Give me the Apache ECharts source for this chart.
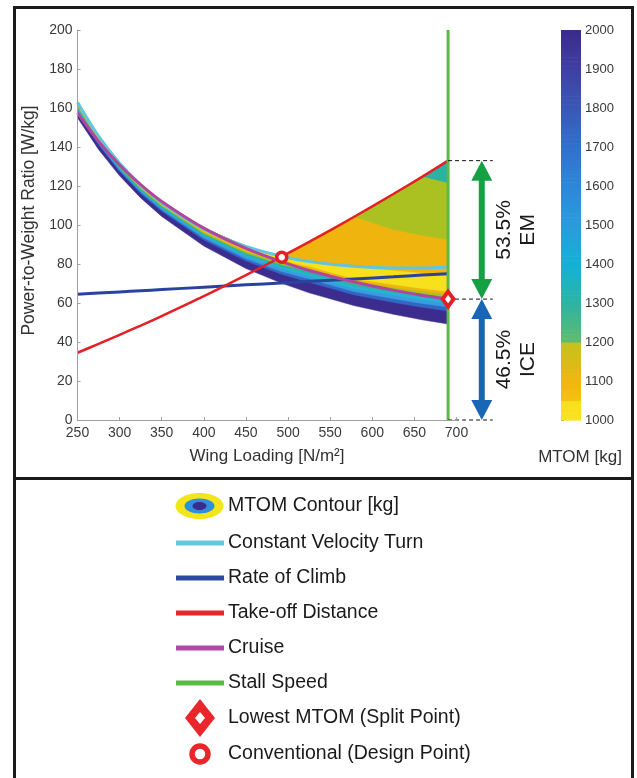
<!DOCTYPE html>
<html>
<head>
<meta charset="utf-8">
<script src="https://cdn.jsdelivr.net/npm/echarts@6/dist/echarts.min.js"></script>
<style>
html,body{margin:0;padding:0;background:#fff;}
#chart{width:637px;height:778px;}
</style>
</head>
<body>
<div id="chart"></div>
<script>
// wing loading samples [N/m2]
var wingLoading = [250, 275, 300, 325, 350, 400, 450, 492, 525, 578, 625, 659, 690];
// constraint curves, power-to-weight [W/kg]
var cvtTurn  = [163.0, 145.6, 131.7, 120.5, 111.4, 97.9, 89.0, 84.0, 81.3, 78.8, 78.0, 78.0, 78.5];
var climb    = [64.5, 65.1, 65.7, 66.3, 66.9, 68.1, 69.3, 70.3, 71.1, 72.3, 73.4, 74.3, 75.0];
var takeOff  = [34.5, 39.0, 43.7, 48.4, 53.3, 63.5, 74.3, 83.7, 91.3, 104.1, 115.9, 124.7, 133.0];
var cruise   = [157.5, 142.9, 130.8, 120.7, 112.1, 98.4, 88.0, 81.2, 76.7, 70.8, 66.6, 64.0, 62.0];
var stallLoading = 690;

// MTOM contour boundaries (lower side of the valley, and upper side in the wedge)
var fillTop   = [163.0, 145.6, 131.7, 120.7, 112.1, 98.4, 89.0, 83.8, 91.3, 104.1, 115.9, 124.7, 133.0];
var mtom2000  = [155.0, 138.7, 125.2, 113.9, 104.4, 89.2, 77.7, 70.2, 65.2, 58.7, 54.2, 51.4, 49.2];
var mtom1800  = [157.7, 141.1, 127.4, 116.2, 107.0, 92.3, 81.5, 74.8, 70.6, 64.2, 60.3, 57.8, 55.9];
var mtom1600  = [158.5, 141.8, 128.1, 116.9, 107.8, 93.3, 82.7, 76.2, 72.3, 65.9, 62.2, 59.8, 57.9];
var mtom1400  = [159.4, 142.5, 128.7, 117.6, 108.6, 94.2, 83.8, 77.6, 73.9, 67.5, 64.0, 61.7, 60.0];
var mtom1300  = [160.0, 143.0, 129.2, 118.1, 109.1, 94.9, 84.7, 78.7, 75.1, 68.8, 65.4, 63.2, 61.5];
var mtom1200  = [160.6, 143.5, 129.7, 118.7, 109.7, 95.6, 85.6, 79.7, 76.4, 70.0, 66.8, 64.6, 63.0];
var mtom1100  = [161.2, 144.1, 130.2, 119.2, 110.3, 96.3, 86.4, 80.8, 77.6, 71.3, 68.1, 66.1, 64.5];
var mtom1050  = [161.8, 144.6, 130.7, 119.7, 110.9, 97.0, 87.3, 81.8, 78.8, 72.5, 69.5, 67.5, 66.0];
var upper1050 = [163.0, 145.6, 131.7, 120.7, 112.1, 98.4, 89.0, 83.8, 81.5, 78.5, 76.5, 75.3, 74.5];
var upper1200 = [163.0, 145.6, 131.7, 120.7, 112.1, 98.4, 89.0, 83.8, 91.3, 104.1, 97.5, 94.5, 92.3];
var upper1300 = [163.0, 145.6, 131.7, 120.7, 112.1, 98.4, 89.0, 83.8, 91.3, 104.1, 115.9, 124.7, 121.4];

// points
var splitPoint  = [690, 62];
var designPoint = [492.5, 83.5];

// hybrid split annotation
var splitLevels = [133, 62, 0];
var dashEnd     = 743;
var arrowSpans  = [[730, 133, 62], [730, 62, 0]];
var shareValue  = ['53.5%', '46.5%'];
var shareName   = ['EM', 'ICE'];

// colorbar
var cbMin = 1000, cbMax = 2000;
var cmapStops = [
	[1000, '#f9e41d'], [1046, '#f8df1c'], [1046, '#f5c213'], [1100, '#efb60f'], [1200, '#c4c21d'],
	[1200, '#63bb6f'], [1300, '#2db3a3'], [1400, '#14b1d5'], [1500, '#2b9bdc'], [1600, '#2e87d8'],
	[1700, '#3270cb'], [1800, '#3a58b6'], [1900, '#3f40a2'], [2000, '#3b2b8b']
];

var FONT = 'Liberation Sans, Arial, sans-serif';

function pairs(ys) {
	return wingLoading.map(function (x, i) { return [x, ys[i]]; });
}
function hex(c) {
	return [parseInt(c.substr(1, 2), 16), parseInt(c.substr(3, 2), 16), parseInt(c.substr(5, 2), 16)];
}
function cmap(v) {
	for (var i = 0; i < cmapStops.length - 1; i++) {
		var a = cmapStops[i], b = cmapStops[i + 1];
		if (v >= a[0] && v <= b[0] && b[0] > a[0]) {
			var t = (v - a[0]) / (b[0] - a[0]);
			var ca = hex(a[1]), cb = hex(b[1]);
			return 'rgb(' + ca.map(function (c, k) { return Math.round(c + (cb[k] - c) * t); }).join(',') + ')';
		}
	}
	return cmapStops[cmapStops.length - 1][1];
}

// filled contour bands, painted from the outer level inwards
var bands = [
	{lo: mtom2000, up: fillTop,   color: '#3b2c8d'},
	{lo: mtom1800, up: fillTop,   color: '#3367c4'},
	{lo: mtom1600, up: fillTop,   color: '#3b9be0'},
	{lo: mtom1400, up: fillTop,   color: '#25b5d3'},
	{lo: mtom1300, up: fillTop,   color: '#2cb2a2'},
	{lo: mtom1200, up: upper1300, color: '#aac121'},
	{lo: mtom1100, up: upper1200, color: '#efb50e'},
	{lo: mtom1050, up: upper1050, color: '#f7e01c'}
];

var series = [];
series.push({
	type: 'custom', data: bands.map(function (b, i) { return [wingLoading[0], i]; }),
	encode: {x: 0, y: 1}, silent: true, z: 1, clip: true,
	renderItem: function (params, api) {
		var b = bands[params.dataIndex];
		var pts = [];
		wingLoading.forEach(function (x, i) { pts.push(api.coord([x, b.up[i]])); });
		for (var i = wingLoading.length - 1; i >= 0; i--) pts.push(api.coord([wingLoading[i], b.lo[i]]));
		return {type: 'polygon', shape: {points: pts}, style: {fill: b.color, stroke: b.color, lineWidth: 0.5}};
	}
});

function curve(name, ys, color, width) {
	return {
		type: 'line', name: name, data: pairs(ys), smooth: 0.3, symbol: 'none',
		lineStyle: {color: color, width: width}, z: 3
	};
}
series.push(curve('Constant Velocity Turn', cvtTurn, '#5fc6dd', 3));
series.push(curve('Rate of Climb', climb, '#28449c', 3));
series.push(curve('Take-off Distance', takeOff, '#e41f26', 2.5));
series.push(curve('Cruise', cruise, '#b0479f', 3));
series.push({
	type: 'line', name: 'Stall Speed', data: [[stallLoading, 0], [stallLoading, 200]], symbol: 'none',
	lineStyle: {color: '#5db947', width: 3}, z: 3
});

// dashed reference lines and split arrows
series.push({
	type: 'custom', data: splitLevels.map(function (v) { return [stallLoading, v, dashEnd]; }),
	encode: {x: 0, y: 1}, clip: false, z: 4, silent: true,
	renderItem: function (params, api) {
		var a = api.coord([api.value(0), api.value(1)]);
		var b = api.coord([api.value(2), api.value(1)]);
		return {type: 'line', shape: {x1: a[0], y1: a[1], x2: b[0], y2: b[1]},
			style: {stroke: '#111', lineWidth: 1, lineDash: [4, 3]}};
	}
});

series.push({
	type: 'scatter', name: 'Lowest MTOM (Split Point)', data: [splitPoint], symbol: 'diamond',
	symbolSize: [11, 15], itemStyle: {color: '#fff', borderColor: '#e41f26', borderWidth: 4, opacity: 1}, z: 6
});
series.push({
	type: 'scatter', name: 'Conventional (Design Point)', data: [designPoint], symbol: 'circle',
	symbolSize: 10, itemStyle: {color: '#fff', borderColor: '#e41f26', borderWidth: 3.5, opacity: 1}, z: 6
});

var arrowColors = ['#14a144', '#1a66b6'];
series.push({
	type: 'custom', data: arrowSpans, encode: {x: 0, y: [1, 2]}, clip: false, z: 5, silent: true,
	renderItem: function (params, api) {
		var x = api.value(0);
		var p1 = api.coord([x, api.value(1)]);
		var p2 = api.coord([x, api.value(2)]);
		var c = arrowColors[params.dataIndex];
		var hw = 10.5, hh = 20, sw = 3;
		var my = (p1[1] + p2[1]) / 2;
		return {
			type: 'group',
			children: [
				{type: 'rect', shape: {x: p1[0] - sw, y: p1[1] + hh - 1, width: 2 * sw, height: p2[1] - p1[1] - 2 * hh + 2}, style: {fill: c}},
				{type: 'polygon', shape: {points: [[p1[0], p1[1]], [p1[0] - hw, p1[1] + hh], [p1[0] + hw, p1[1] + hh]]}, style: {fill: c}},
				{type: 'polygon', shape: {points: [[p2[0], p2[1]], [p2[0] - hw, p2[1] - hh], [p2[0] + hw, p2[1] - hh]]}, style: {fill: c}},
				{type: 'text', x: p1[0] + 22, y: my, rotation: Math.PI / 2,
					style: {text: shareValue[params.dataIndex], fill: '#1a1a1a', font: '21px ' + FONT, align: 'center', verticalAlign: 'middle'}},
				{type: 'text', x: p1[0] + 46.5, y: my, rotation: Math.PI / 2,
					style: {text: shareName[params.dataIndex], fill: '#1a1a1a', font: '21px ' + FONT, align: 'center', verticalAlign: 'middle'}}
			]
		};
	}
});

// colorbar cells
var cbCells = [];
for (var v = cbMin; v < cbMax; v += 10) cbCells.push([v, v + 10]);
series.push({
	type: 'custom', xAxisIndex: 1, yAxisIndex: 1, data: cbCells, encode: {y: [0, 1]}, silent: true,
	renderItem: function (params, api) {
		var lo = api.value(0), hi = api.value(1);
		var a = api.coord([0, lo]), b = api.coord([1, hi]);
		return {type: 'rect', shape: {x: a[0], y: b[1], width: b[0] - a[0], height: a[1] - b[1] + 0.6},
			style: {fill: cmap((lo + hi) / 2)}};
	}
});

// legend (drawn as graphics)
var legendRows = [506, 543, 578, 613, 648, 683, 718, 754];
var legendText = ['MTOM Contour [kg]', 'Constant Velocity Turn', 'Rate of Climb', 'Take-off Distance',
	'Cruise', 'Stall Speed', 'Lowest MTOM (Split Point)', 'Conventional (Design Point)'];
var legendLine = [null, '#66c6de', '#2a4aa0', '#e8262c', '#b04aa8', '#5cba47'];
var graphics = [
	{type: 'rect', shape: {x: 14.5, y: 7.5, width: 618, height: 471}, style: {fill: 'none', stroke: '#1a1a1a', lineWidth: 3}},
	{type: 'rect', shape: {x: 14.5, y: 478.5, width: 618, height: 320}, style: {fill: 'none', stroke: '#1a1a1a', lineWidth: 3}},
	{type: 'text', x: 580, y: 457, style: {text: 'MTOM [kg]', fill: '#333', font: '17px ' + FONT, align: 'center', verticalAlign: 'middle'}},
	{type: 'ellipse', shape: {cx: 199.5, cy: 506, rx: 24, ry: 13}, style: {fill: '#f3e51c'}},
	{type: 'ellipse', shape: {cx: 199.5, cy: 506, rx: 15, ry: 7.5}, style: {fill: '#2f8fdb'}},
	{type: 'ellipse', shape: {cx: 199.5, cy: 506, rx: 7, ry: 4}, style: {fill: '#3b2b8b'}},
	{type: 'polygon', shape: {points: [[200, 699], [215, 718], [200, 737], [185, 718]]}, style: {fill: '#e8262c'}},
	{type: 'polygon', shape: {points: [[200, 712], [205, 718], [200, 724], [195, 718]]}, style: {fill: '#fff'}},
	{type: 'circle', shape: {cx: 200, cy: 754, r: 8}, style: {fill: '#fff', stroke: '#e8262c', lineWidth: 5.5}}
];
legendRows.forEach(function (y, i) {
	if (legendLine[i]) {
		graphics.push({type: 'line', shape: {x1: 176, y1: y, x2: 224, y2: y}, style: {stroke: legendLine[i], lineWidth: 5}});
	}
	graphics.push({type: 'text', x: 228, y: y, style: {text: legendText[i], fill: '#1a1a1a', font: '19.5px ' + FONT, verticalAlign: 'middle'}});
});

var chart = echarts.init(document.getElementById('chart'));
chart.setOption({
	animation: false,
	backgroundColor: '#fff',
	grid: [
		{left: 77.5, top: 30, width: 379, height: 390, outerBoundsMode: 'none'},
		{left: 561, top: 30, width: 20, height: 390, outerBoundsMode: 'none'}
	],
	xAxis: [
		{
			type: 'value', min: 250, max: 700, interval: 50, gridIndex: 0, z: 5,
			name: 'Wing Loading [N/m\u00b2]', nameLocation: 'middle', nameGap: 28,
			nameTextStyle: {fontSize: 17, color: '#333', fontFamily: FONT},
			axisLine: {show: true, lineStyle: {color: '#a0a0a0', width: 1}},
			axisTick: {show: true, inside: true, length: 3, lineStyle: {color: '#a0a0a0'}},
			axisLabel: {fontSize: 14, color: '#3a3a3a', fontFamily: FONT, margin: 6},
			splitLine: {show: false}
		},
		{type: 'value', min: 0, max: 1, gridIndex: 1, show: false}
	],
	yAxis: [
		{
			type: 'value', min: 0, max: 200, interval: 20, gridIndex: 0, z: 5,
			name: 'Power-to-Weight Ratio [W/kg]', nameLocation: 'middle', nameGap: 33,
			nameTextStyle: {fontSize: 17.5, color: '#333', fontFamily: FONT, padding: [0, 0, 0, 9]},
			axisLine: {show: true, lineStyle: {color: '#a0a0a0', width: 1}},
			axisTick: {show: true, inside: true, length: 3, lineStyle: {color: '#a0a0a0'}},
			axisLabel: {fontSize: 14, color: '#3a3a3a', fontFamily: FONT, margin: 5},
			splitLine: {show: false}
		},
		{
			type: 'value', min: cbMin, max: cbMax, interval: 100, gridIndex: 1, position: 'right',
			axisLine: {show: false},
			axisTick: {show: true, length: 3, lineStyle: {color: '#888'}},
			axisLabel: {fontSize: 13, color: '#3a3a3a', fontFamily: FONT, margin: 4,
				formatter: function (val) { return String(val); }},
			splitLine: {show: false}
		}
	],
	graphic: graphics,
	series: series
});
</script>
</body>
</html>
